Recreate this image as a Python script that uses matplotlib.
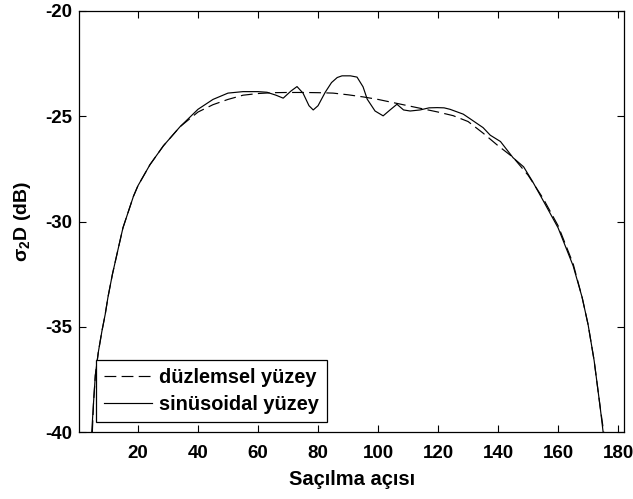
import numpy as np
import matplotlib
matplotlib.use('Agg')
from matplotlib import pyplot as plt

plt.rcParams['font.family'] = ['Liberation Sans', 'DejaVu Sans']
plt.rcParams['font.weight'] = 'bold'
plt.rcParams['axes.unicode_minus'] = False
plt.rcParams['mathtext.default'] = 'regular'

# flat surface (dashed)
aci_duz = [4.8, 5.2, 5.8, 6.8, 8, 9.1, 10, 11.5, 13.4, 15, 18.5, 20, 24, 28.5, 34, 40,
           45, 50, 55, 60, 65, 70, 75, 80, 85, 90, 95, 100, 105, 110, 115, 120, 125,
           130, 135, 140, 145, 150, 155, 160, 165, 168, 170, 172, 174, 175.2]
duz = [-40, -38.6, -37.3, -36.2, -35.2, -34.4, -33.6, -32.5, -31.3, -30.3, -28.8, -28.3,
       -27.3, -26.4, -25.5, -24.8, -24.45, -24.2, -24.0, -23.92, -23.88, -23.87, -23.87,
       -23.88, -23.9, -23.98, -24.08, -24.2, -24.35, -24.5, -24.65, -24.8, -24.97,
       -25.25, -25.8, -26.4, -26.95, -27.8, -28.9, -30.2, -32.0, -33.6, -34.9, -36.6,
       -38.8, -40]

# sinusoidal surface (solid)
aci_sin = [4.6, 5.2, 5.8, 6.8, 8, 9.1, 10, 11.5, 13.4, 15, 18.5, 20, 24, 28.5, 34, 40,
           45, 50, 55, 60, 63, 66, 68.4, 71, 73, 75, 77, 78.4, 80, 82.4, 84.5, 86.4, 88,
           90.8, 93, 95, 96.4, 99, 101.7, 104, 106.3, 108.5, 110.7, 114, 117, 119.7, 122,
           124, 128.4, 131, 135, 137.4, 140.8, 145, 148.5, 151.5, 155, 160, 165, 168,
           170, 172, 174, 175]
sinus = [-40, -38.6, -37.3, -36.2, -35.2, -34.4, -33.6, -32.5, -31.3, -30.3, -28.8, -28.3,
         -27.3, -26.4, -25.5, -24.67, -24.2, -23.9, -23.83, -23.83, -23.86, -24.0, -24.14,
         -23.8, -23.59, -23.9, -24.5, -24.7, -24.5, -23.86, -23.4, -23.16, -23.08, -23.08,
         -23.14, -23.6, -24.19, -24.75, -24.98, -24.7, -24.43, -24.7, -24.75, -24.7,
         -24.6, -24.59, -24.6, -24.67, -24.9, -25.15, -25.54, -25.9, -26.2, -26.97, -27.4,
         -28.1, -29.0, -30.3, -32.1, -33.6, -34.9, -36.6, -38.8, -40]

x_ticks = [20, 40, 60, 80, 100, 120, 140, 160, 180]
y_ticks = [-40, -35, -30, -25, -20]

fig = plt.figure(figsize=(6.33, 4.99), dpi=100)
ax = fig.add_axes([0.125, 0.134, 0.861, 0.844])

ax.plot(aci_duz, duz, color='black', lw=0.85, dashes=(10, 4.5), label='düzlemsel yüzey')
ax.plot(aci_sin, sinus, color='black', lw=0.85, label='sinüsoidal yüzey')

ax.set_xlim(0.4, 182)
ax.set_ylim(-40, -20)
ax.set_xticks(x_ticks)
ax.set_yticks(y_ticks)
ax.tick_params(axis='both', direction='in', length=5, width=0.8, top=True, right=True,
               labelsize=13.5)
ax.tick_params(axis='x', pad=9)
ax.tick_params(axis='y', pad=5)
for s in ax.spines.values():
    s.set_linewidth(0.9)

ax.set_xlabel('Saçılma açısı', fontsize=14.5, fontweight='bold', labelpad=6)
ax.set_ylabel(r'$\sigma_2$D (dB)', fontsize=14, fontweight='bold', labelpad=9)

leg = ax.legend(loc='lower left', bbox_to_anchor=(0.031, 0.024), borderaxespad=0,
                fontsize=14.4, fancybox=False, framealpha=1, edgecolor='black',
                handlelength=2.4, handletextpad=0.35, labelspacing=0.4,
                borderpad=0.4)
leg.get_frame().set_linewidth(0.9)

fig.savefig('out.png', dpi=100)
